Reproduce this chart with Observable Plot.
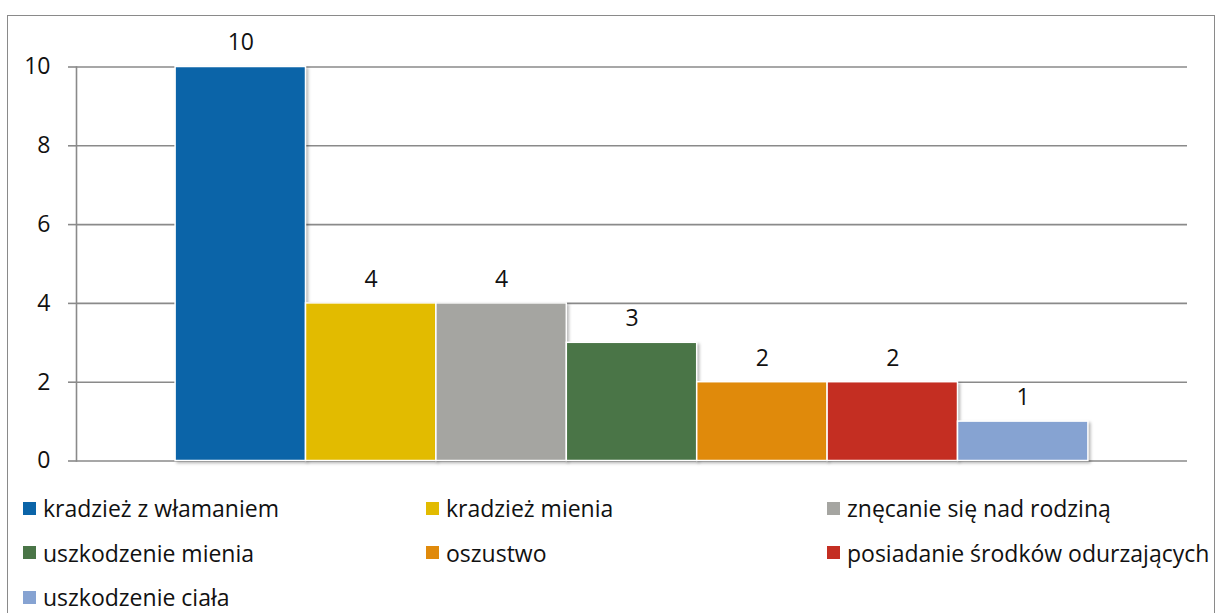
<!DOCTYPE html>
<html>
<head>
<meta charset="utf-8">
<script src="https://cdn.jsdelivr.net/npm/d3@7"></script>
<script src="https://cdn.jsdelivr.net/npm/@observablehq/plot@0.6"></script>
<style>
  html, body { margin: 0; padding: 0; background: #fff; }
  body { font-family: "Open Sans", sans-serif; width: 1216px; height: 613px; overflow: hidden; position: relative; }
  #frame { position: absolute; left: 7px; top: 15px; width: 1208px; height: 660px; border: 1.5px solid #8a8a8a; box-sizing: border-box; }
  #chart { position: absolute; left: 0; top: 0; }
  #legend { position: absolute; left: 23px; top: 486px; display: grid; grid-template-columns: 403px 401px 390px; }
  .item { display: flex; align-items: center; height: 44.5px; font-size: 23px; color: #111; white-space: nowrap; }
  .sw { width: 13px; height: 13px; margin-right: 7px; flex: none; }
</style>
</head>
<body>
<div id="frame"></div>
<div id="chart"></div>
<div id="legend"></div>
<script>
const categories = [
  "kradzież z włamaniem",
  "kradzież mienia",
  "znęcanie się nad rodziną",
  "uszkodzenie mienia",
  "oszustwo",
  "posiadanie środków odurzających",
  "uszkodzenie ciała"
];
const values = [10, 4, 4, 3, 2, 2, 1];
const colors = ["#0b64a8", "#e2bb00", "#a5a5a1", "#4a7547", "#e08a0b", "#c42e22", "#86a3d2"];
const yTicks = [0, 2, 4, 6, 8, 10];

const data = categories.map((name, i) => ({name, value: values[i]}));

const chart = Plot.plot({
  width: 1216,
  height: 480,
  marginLeft: 76,
  marginRight: 29,
  marginTop: 66.5,
  marginBottom: 19.5,
  style: {fontFamily: "Open Sans, sans-serif", fontSize: "23px", color: "#111", background: "transparent"},
  x: {domain: categories, paddingInner: 0, paddingOuter: 0.76, round: false, axis: null},
  y: {domain: [0, 10], axis: null},
  color: {domain: categories, range: colors},
  marks: [
    Plot.gridY(yTicks, {stroke: "#8a8a8a", strokeOpacity: 1, strokeWidth: 1.6}),
    Plot.axisY({ticks: yTicks, tickSize: 8, tickPadding: 18, stroke: "#8a8a8a", strokeWidth: 1.6, fill: "#111", fontSize: 23, label: null}),
    Plot.frame({anchor: "left", stroke: "#8a8a8a", strokeWidth: 1.6}),
    Plot.barY(data, {x: "name", y: "value", fill: "name", stroke: "white", strokeWidth: 1.5, className: "bars"}),
    Plot.text(data, {x: "name", y: "value", text: d => String(d.value), dy: -24, fontSize: 23, fill: "#111"})
  ]
});
d3.select(chart).selectAll("g.bars rect").style("filter", "drop-shadow(2px 2px 1.5px rgba(0,0,0,0.28))");
document.getElementById("chart").appendChild(chart);

const legend = d3.select("#legend");
categories.forEach((c, i) => {
  const it = legend.append("div").attr("class", "item");
  it.append("div").attr("class", "sw").style("background", colors[i]);
  it.append("span").text(c);
});
</script>
</body>
</html>
